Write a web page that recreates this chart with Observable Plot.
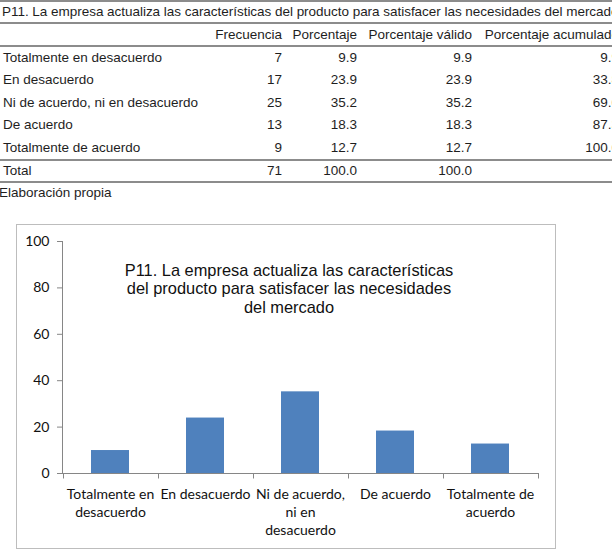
<!DOCTYPE html>
<html>
<head>
<meta charset="utf-8">
<script src="https://cdn.jsdelivr.net/npm/d3@7"></script>
<script src="https://cdn.jsdelivr.net/npm/@observablehq/plot@0.6"></script>
<style>
  html, body { margin: 0; padding: 0; background: #fff; }
  body { width: 612px; height: 556px; overflow: hidden; position: relative;
         font-family: "Liberation Sans", Arial, sans-serif; }
  #freq { position: absolute; left: 0; top: 0; border-collapse: separate; border-spacing: 0;
          table-layout: fixed; width: 621px; font-size: 13.5px; color: #1e1e1e; }
  #freq td, #freq th { padding: 0 2px; white-space: nowrap; font-weight: normal; overflow: visible; }
  #freq .num { text-align: right; }
  #freq .lab { text-align: left; padding-left: 3px; }
  #freq tr.title td { border-top: 2px solid #8c8c8c; border-bottom: 2px solid #8c8c8c; line-height: 20px; text-align: left; padding-left: 2px; letter-spacing: -0.03px; }
  #freq tr.head th { border-bottom: 2px solid #8c8c8c; line-height: 21px; }
  #freq tr.data td { line-height: 22.4px; }
  #freq tr.total td { border-top: 2px solid #8c8c8c; border-bottom: 2px solid #8c8c8c; line-height: 20px; }
  #source { position: absolute; left: -1px; top: 185px; font-size: 13.5px; line-height: 16px; color: #1e1e1e; }
  #chart { position: absolute; left: 16px; top: 224px; width: 538px; height: 323px;
           border: 1px solid #bdbdbd; background: #fff; }
</style>
</head>
<body>
<table id="freq"></table>
<div id="source"></div>
<div id="chart"></div>
<script>
// Frequency table for item P11
const tableTitle = "P11. La empresa actualiza las características del producto para satisfacer las necesidades del mercado";
const columnHeads = ["Frecuencia", "Porcentaje", "Porcentaje válido", "Porcentaje acumulado"];
const categories = [
  "Totalmente en desacuerdo",
  "En desacuerdo",
  "Ni de acuerdo, ni en desacuerdo",
  "De acuerdo",
  "Totalmente de acuerdo"
];
const frecuencia = [7, 17, 25, 13, 9];
const porcentaje = [9.9, 23.9, 35.2, 18.3, 12.7];
const porcentajeValido = [9.9, 23.9, 35.2, 18.3, 12.7];
const porcentajeAcumulado = [9.9, 33.8, 69.0, 87.3, 100.0];
const totalRow = ["Total", 71, 100.0, 100.0, null];
const sourceNote = "Elaboración propia";

// Bar chart labels
const chartTitle = [
  "P11. La empresa actualiza las características",
  "del producto para satisfacer las necesidades",
  "del mercado"
];
const tickLabels = [
  "Totalmente en\ndesacuerdo",
  "En desacuerdo",
  "Ni de acuerdo,\nni en\ndesacuerdo",
  "De acuerdo",
  "Totalmente de\nacuerdo"
];
const yTicks = [0, 20, 40, 60, 80, 100];

// ---- table ----
const fmt1 = d3.format(".1f");
const table = d3.select("#freq");
const cols = table.append("colgroup");
[212, 72, 75, 115, 147].forEach(w => cols.append("col").style("width", w + "px"));
table.append("tr").attr("class", "title").append("td").attr("colspan", 5).text(tableTitle);
const head = table.append("tr").attr("class", "head");
head.append("th");
columnHeads.forEach(h => head.append("th").attr("class", "num").text(h));
categories.forEach((c, i) => {
  const tr = table.append("tr").attr("class", "data");
  tr.append("td").attr("class", "lab").text(c);
  tr.append("td").attr("class", "num").text(frecuencia[i]);
  tr.append("td").attr("class", "num").text(fmt1(porcentaje[i]));
  tr.append("td").attr("class", "num").text(fmt1(porcentajeValido[i]));
  tr.append("td").attr("class", "num").text(fmt1(porcentajeAcumulado[i]));
});
const tot = table.append("tr").attr("class", "total");
tot.append("td").attr("class", "lab").text(totalRow[0]);
tot.append("td").attr("class", "num").text(totalRow[1]);
tot.append("td").attr("class", "num").text(fmt1(totalRow[2]));
tot.append("td").attr("class", "num").text(fmt1(totalRow[3]));
tot.append("td").attr("class", "num").text(totalRow[4] == null ? "" : fmt1(totalRow[4]));
d3.select("#source").text(sourceNote);

// ---- chart ----
const rows = categories.map((c, i) => ({categoria: c, porcentaje: porcentaje[i]}));
const axisColor = "#868686";
const textColor = "#111";

// axis lines plus category-boundary ticks on the x axis
function axisFrame(index, scales, values, dimensions) {
  const x = scales.x, y = scales.y;
  const left = dimensions.marginLeft;
  const right = dimensions.width - dimensions.marginRight;
  const y0 = Math.round(y(0)) + 0.5;
  const g = d3.create("svg:g").attr("stroke", axisColor).attr("fill", "none");
  g.append("line").attr("x1", left + 0.5).attr("x2", left + 0.5)
    .attr("y1", Math.round(y(100))).attr("y2", y0);
  g.append("line").attr("x1", left).attr("x2", right).attr("y1", y0).attr("y2", y0);
  const half = (x.step() - x.bandwidth()) / 2;
  const edges = categories.map(c => x(c) - half).concat([x(categories[categories.length - 1]) + x.bandwidth() + half]);
  edges.forEach(e => {
    const ex = Math.round(e) + 0.5;
    g.append("line").attr("x1", ex).attr("x2", ex).attr("y1", y0).attr("y2", y0 + 5);
  });
  return g.node();
}

const chart = Plot.plot({
  width: 538,
  height: 323,
  marginLeft: 45,
  marginRight: 16,
  marginTop: 16,
  marginBottom: 75,
  style: {fontFamily: "Lato, 'Open Sans', sans-serif", fontSize: "14px", color: textColor, background: "transparent", overflow: "visible"},
  x: {domain: categories, paddingInner: 0.6, paddingOuter: 0.3, label: null},
  y: {domain: [0, 100], label: null},
  marks: [
    Plot.barY(rows, {x: "categoria", y: "porcentaje", fill: "#4F81BD"}),
    axisFrame,
    Plot.axisY({ticks: yTicks, tickSize: 5, tickPadding: 8, stroke: axisColor, fill: textColor, fontSize: 14, label: null}),
    Plot.axisX({tickSize: 0, tickPadding: 13, fill: textColor, fontSize: 14, lineHeight: 1.29, label: null,
      tickFormat: d => tickLabels[categories.indexOf(d)]}),
    Plot.text([chartTitle.join("\n")], {text: d => d, frameAnchor: "top", lineAnchor: "middle", dx: -12, dy: 47,
      fontSize: 16.4, lineHeight: 1.13, fontFamily: "'Liberation Sans', Arial, sans-serif", fill: textColor})
  ]
});
document.getElementById("chart").appendChild(chart);
</script>
</body>
</html>
